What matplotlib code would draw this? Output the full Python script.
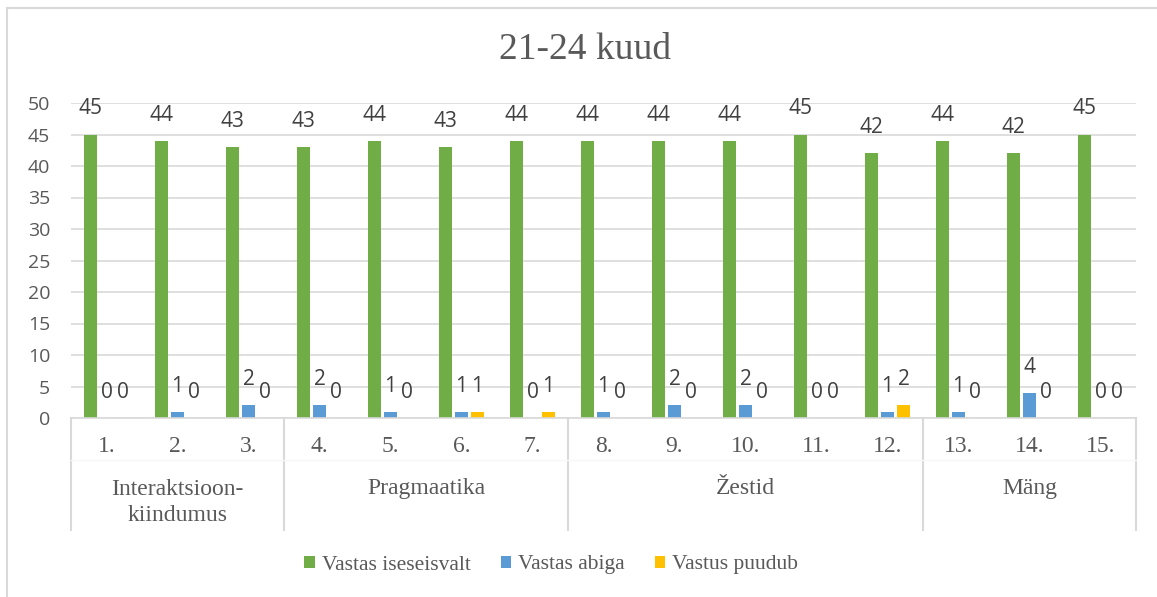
import numpy as np
import matplotlib
matplotlib.use("Agg")
import matplotlib.pyplot as plt
from matplotlib.patches import Patch
from matplotlib.lines import Line2D
import matplotlib.transforms as mtransforms

title = "21-24 kuud"
categories = ["1.", "2.", "3.", "4.", "5.", "6.", "7.", "8.", "9.", "10.", "11.", "12.", "13.", "14.", "15."]
groups = ["Interaktsioon-\nkiindumus", "Pragmaatika", "Žestid", "Mäng"]
group_sizes = [3, 4, 5, 3]
series_names = ["Vastas iseseisvalt", "Vastas abiga", "Vastus puudub"]
iseseisvalt = [45, 44, 43, 43, 44, 43, 44, 44, 44, 44, 45, 42, 44, 42, 45]
abiga = [0, 1, 2, 2, 1, 1, 0, 1, 2, 2, 0, 1, 1, 4, 0]
puudub = [0, 0, 0, 0, 0, 1, 1, 0, 0, 0, 0, 2, 0, 0, 0]
yticks = [0, 5, 10, 15, 20, 25, 30, 35, 40, 45, 50]

colors = ["#70AD47", "#5B9BD5", "#FFC000"]
serif = "Liberation Serif"
sans = "Open Sans"
txt_gray = "#595959"
lbl_gray = "#404040"
grid_c = "#D9D9D9"

W, H = 1157, 597
fig = plt.figure(figsize=(W / 100, H / 100), dpi=100)
ax = fig.add_axes([71 / W, 1 - 418 / H, (1136 - 71) / W, (418 - 103) / H])

x = np.arange(len(categories))
offsets = [-0.225, 0.0, 0.225]
width = 0.183
series = [iseseisvalt, abiga, puudub]
for s, (vals, off, col) in enumerate(zip(series, offsets, colors)):
    ax.bar(x + off, vals, width=width, color=col, zorder=3)
    for xi, v in zip(x, vals):
        ax.annotate(str(v), xy=(xi + off, v), xytext=(0, 18.5), textcoords="offset points",
                    ha="center", va="center", fontsize=15, family=sans, color=lbl_gray, zorder=4)

ax.set_xlim(-0.5, len(categories) - 0.5)
ax.set_ylim(0, 50)
ax.set_yticks(yticks)
ax.set_yticklabels([str(t) for t in yticks], fontsize=14, family=sans, color=txt_gray)
ax.tick_params(axis="y", length=0, pad=15)
ax.tick_params(axis="x", length=0, labelbottom=False)
ax.grid(axis="y", color=grid_c, lw=1.2, zorder=0)
for sp in ["left", "right", "top"]:
    ax.spines[sp].set_visible(False)
ax.spines["bottom"].set_color(grid_c)
ax.spines["bottom"].set_linewidth(1.2)
ax.spines["bottom"].set_zorder(5)

trans = mtransforms.blended_transform_factory(ax.transData, ax.transAxes)
# category labels
for xi, c in zip(x, categories):
    ax.annotate(c, xy=(xi, 0), xycoords=trans, xytext=(0, -20.5), textcoords="offset points",
                ha="center", va="center", fontsize=17, family=serif, color=txt_gray)
# group labels and separators
start = 0
bounds = [-0.5]
for g, n in zip(groups, group_sizes):
    center = start + (n - 1) / 2
    nl = g.count("\n")
    ax.annotate(g, xy=(center, 0), xycoords=trans, xytext=(0, -(50.5 + nl * 10.3)), textcoords="offset points",
                ha="center", va="center", fontsize=17, family=serif, color=txt_gray, linespacing=1.35)
    start += n
    bounds.append(start - 0.5)
sep_h = 112 / (418 - 103)
for b in bounds:
    ax.add_line(Line2D([b, b], [0, -sep_h], transform=trans, color=grid_c, lw=1.5, clip_on=False))
ax.add_line(Line2D([-0.5, len(categories) - 0.5], [-42 / 315, -42 / 315], transform=trans,
                   color="#F7F7F7", lw=1, clip_on=False))

fig.text(585 / W, 1 - 50 / H, title, ha="center", va="center", fontsize=27, family=serif, color=txt_gray)

handles = [Patch(facecolor=c, edgecolor="none") for c in colors]
leg = fig.legend(handles, series_names, loc="center", bbox_to_anchor=(551 / W, 1 - 565 / H), ncol=3,
                 frameon=False, prop={"family": serif, "size": 15.5}, handlelength=0.5, handleheight=0.5,
                 handletextpad=0.3, columnspacing=1.4)
for t in leg.get_texts():
    t.set_color(txt_gray)

# chart border (left and top visible)
fig.add_artist(Line2D([7 / W, 7 / W], [0, 1 - 8 / H], transform=fig.transFigure, color=grid_c, lw=1.5))
fig.add_artist(Line2D([7 / W, 1], [1 - 8 / H, 1 - 8 / H], transform=fig.transFigure, color=grid_c, lw=1.5))

fig.savefig("out.png", dpi=100, facecolor="white")
